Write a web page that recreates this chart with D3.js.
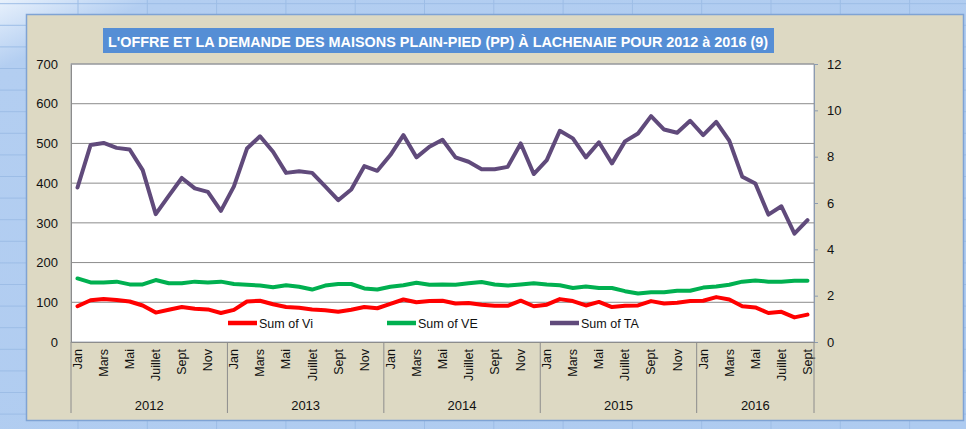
<!DOCTYPE html>
<html>
<head>
<meta charset="utf-8">
<script src="https://cdn.jsdelivr.net/npm/d3@7"></script>
<style>
  body { margin: 0; background: #b3cef1; }
  svg { display: block; font-family: "Liberation Sans", Arial, sans-serif; }
</style>
</head>
<body>
<div id="chart"></div>
<script>
// chart data
var years = ["2012", "2013", "2014", "2015", "2016"];
var monthNames = ["Jan", "Fév", "Mars", "Avr", "Mai", "Juin", "Juillet", "Août", "Sept", "Oct", "Nov", "Déc"];

var vi = [90, 105, 108, 106, 102, 92, 74, 81, 88, 84, 82, 73,
          81, 102, 104, 95, 88, 86, 82, 80, 76, 81, 88, 85,
          96, 107, 100, 103, 104, 97, 98, 94, 91, 91, 104, 90,
          94, 108, 103, 92, 101, 88, 91, 92, 103, 97, 99, 103,
          104, 113, 107, 90, 87, 73, 76, 62, 69];

var ve = [160, 150, 150, 152, 145, 145, 156, 148, 148, 152, 150, 152,
          146, 144, 142, 138, 143, 139, 132, 142, 146, 146, 135, 132,
          139, 143, 149, 144, 145, 144, 148, 151, 145, 142, 145, 148,
          145, 143, 136, 140, 136, 136, 128, 122, 125, 125, 129, 129,
          137, 140, 144, 152, 155, 152, 152, 154, 154];

var ta = [6.67, 8.50, 8.59, 8.38, 8.31, 7.42, 5.52, 6.31, 7.08, 6.63, 6.48, 5.66,
          6.72, 8.35, 8.88, 8.21, 7.30, 7.37, 7.30, 6.72, 6.12, 6.58, 7.59, 7.39,
          8.07, 8.93, 7.97, 8.43, 8.73, 7.97, 7.78, 7.46, 7.46, 7.56, 8.57, 7.25,
          7.85, 9.12, 8.79, 7.97, 8.62, 7.71, 8.66, 9.00, 9.75, 9.17, 9.03, 9.55,
          8.93, 9.50, 8.69, 7.13, 6.84, 5.50, 5.86, 4.68, 5.26];

var leftTicks = [0, 100, 200, 300, 400, 500, 600, 700];
var rightTicks = [0, 2, 4, 6, 8, 10, 12];
var title = "L'OFFRE ET LA DEMANDE DES MAISONS PLAIN-PIED (PP) À LACHENAIE POUR 2012 à 2016 (9)";

// one category per month, Jan 2012 .. Sept 2016
var cats = d3.range(vi.length).map(function(i) {
  return { key: i, year: years[Math.floor(i / 12)], month: monthNames[i % 12] };
});

var svgWidth = 966;
var svgHeight = 429;
var plot = { left: 71, top: 64, right: 814, bottom: 342 };

var svg = d3.select("#chart")
  .append("svg")
  .attr("width", svgWidth)
  .attr("height", svgHeight);

// soft glow in the top left corner of the sheet
var defs = svg.append("defs");
var glow = defs.append("linearGradient")
  .attr("id", "glow")
  .attr("x1", 0).attr("y1", 0).attr("x2", 1).attr("y2", 1);
glow.append("stop").attr("offset", "0%").attr("stop-color", "#e8f1fc");
glow.append("stop").attr("offset", "8%").attr("stop-color", "#b3cef1");
glow.append("stop").attr("offset", "100%").attr("stop-color", "#aecbf0");

// spreadsheet behind the chart
var sheet = svg.append("g");
sheet.append("rect")
  .attr("width", svgWidth)
  .attr("height", svgHeight)
  .attr("fill", "url(#glow)");
d3.range(78, svgWidth, 69.3).forEach(function(x) {
  sheet.append("line")
    .attr("x1", x).attr("x2", x).attr("y1", 0).attr("y2", svgHeight)
    .attr("stroke", "#9dbde6");
});
d3.range(3.7, svgHeight, 21.6).forEach(function(y) {
  sheet.append("line")
    .attr("x1", 0).attr("x2", svgWidth).attr("y1", y).attr("y2", y)
    .attr("stroke", "#9dbde6");
});

// chart frame
svg.append("rect")
  .attr("x", 26.5).attr("y", 14.5).attr("width", 937).attr("height", 406)
  .attr("fill", "#ddd9c3").attr("stroke", "#7fa3d4").attr("stroke-width", 1.5);

// title box
svg.append("rect")
  .attr("x", 103).attr("y", 28).attr("width", 671).attr("height", 25)
  .attr("fill", "#558ed5");
svg.append("text")
  .attr("x", 108).attr("y", 46.5)
  .attr("fill", "white")
  .attr("font-weight", "bold")
  .attr("font-size", "14.5px")
  .attr("textLength", 660)
  .attr("lengthAdjust", "spacingAndGlyphs")
  .text(title);

// scales
var x = d3.scaleBand()
  .domain(cats.map(function(d) { return d.key; }))
  .range([plot.left, plot.right]);
var cx = function(i) { return x(i) + x.bandwidth() / 2; };

var yLeft = d3.scaleLinear().domain([0, 700]).range([plot.bottom, plot.top]);
var yRight = d3.scaleLinear().domain([0, 12]).range([plot.bottom, plot.top]);

// plot area
svg.append("rect")
  .attr("x", plot.left).attr("y", plot.top)
  .attr("width", plot.right - plot.left).attr("height", plot.bottom - plot.top)
  .attr("fill", "white").attr("stroke", "#a5adbb");

svg.append("g")
  .selectAll("line")
  .data(leftTicks.slice(1))
  .enter()
  .append("line")
  .attr("x1", plot.left).attr("x2", plot.right)
  .attr("y1", d => yLeft(d)).attr("y2", d => yLeft(d))
  .attr("stroke", "#8c8c8c");

// left axis
var leftAxis = d3.axisLeft(yLeft).tickValues(leftTicks).tickSize(0).tickPadding(13);
var gl = svg.append("g")
  .attr("transform", `translate(${plot.left}, 0)`)
  .call(leftAxis);
gl.select(".domain").attr("stroke", "#8c8c8c");
gl.selectAll("text").attr("font-size", "13px").attr("fill", "#111").attr("font-family", null);

// right axis
var rightAxis = d3.axisRight(yRight).tickValues(rightTicks).tickSize(4).tickPadding(9);
var gr = svg.append("g")
  .attr("transform", `translate(${plot.right}, 0)`)
  .call(rightAxis);
gr.select(".domain").attr("stroke", "#8c9bb0");
gr.selectAll(".tick line").attr("stroke", "#8c9bb0");
gr.selectAll("text").attr("font-size", "13px").attr("fill", "#111").attr("font-family", null);

// bottom axis: months, every other one labelled
var bottomAxis = d3.axisBottom(x)
  .tickSize(0)
  .tickFormat(function(i) { return i % 2 === 0 ? cats[i].month : ""; });
var gb = svg.append("g")
  .attr("transform", `translate(0, ${plot.bottom})`)
  .call(bottomAxis);
gb.select(".domain").attr("stroke", "#8c8c8c");
gb.selectAll("text")
  .attr("font-size", "12.5px")
  .attr("fill", "#111")
  .attr("font-family", null)
  .attr("text-anchor", "end")
  .attr("transform", "rotate(-90)")
  .attr("x", -7)
  .attr("y", 0)
  .attr("dy", "0.35em");

// year level
var yearStart = years.map(function(yr, k) { return x(k * 12); });
var yearEnd = years.map(function(yr, k) {
  var last = Math.min(k * 12 + 11, cats.length - 1);
  return x(last) + x.bandwidth();
});
var sepX = [plot.left].concat(yearEnd);
svg.append("g")
  .selectAll("line")
  .data(sepX)
  .enter()
  .append("line")
  .attr("x1", d => d).attr("x2", d => d)
  .attr("y1", plot.bottom).attr("y2", 413)
  .attr("stroke", "#8c8c8c");
svg.append("g")
  .selectAll("text")
  .data(years)
  .enter()
  .append("text")
  .attr("x", (d, k) => (yearStart[k] + yearEnd[k]) / 2)
  .attr("y", 410)
  .attr("text-anchor", "middle")
  .attr("font-size", "13px")
  .attr("fill", "#111")
  .text(d => d);

// series
var series = [
  { name: "Sum of Vi", values: vi, scale: yLeft, color: "#ff0000" },
  { name: "Sum of VE", values: ve, scale: yLeft, color: "#00b050" },
  { name: "Sum of TA", values: ta, scale: yRight, color: "#604a7b" }
];

series.forEach(function(s) {
  var line = d3.line()
    .x(function(d, i) { return cx(i); })
    .y(function(d) { return s.scale(d); });
  svg.append("path")
    .datum(s.values)
    .attr("d", line)
    .attr("fill", "none")
    .attr("stroke", s.color)
    .attr("stroke-width", 4)
    .attr("stroke-linejoin", "round")
    .attr("stroke-linecap", "round");
});

// legend
var legendX = [228, 387, 550];
var legend = svg.append("g")
  .selectAll("g")
  .data(series)
  .enter()
  .append("g")
  .attr("transform", (d, k) => `translate(${legendX[k]}, 323)`);
legend.append("line")
  .attr("x1", 0).attr("x2", 29)
  .attr("stroke", d => d.color)
  .attr("stroke-width", 4.5);
legend.append("text")
  .attr("x", 31)
  .attr("y", 4.5)
  .attr("font-size", "12.5px")
  .attr("fill", "#111")
  .text(d => d.name);
</script>
</body>
</html>
